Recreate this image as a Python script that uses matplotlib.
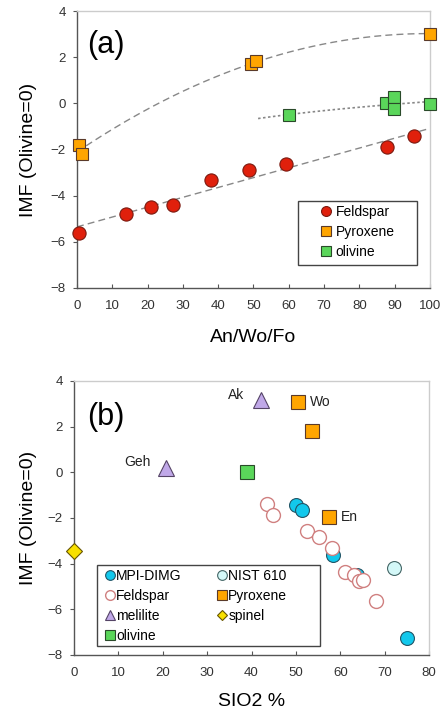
import numpy as np
import matplotlib
matplotlib.use('Agg')
import matplotlib.pyplot as plt
from matplotlib.patches import Rectangle

plt.rcParams['font.family'] = ['Liberation Sans', 'DejaVu Sans']

# ---- panel (a) data: IMF vs An/Wo/Fo ----
feld_x = [0.5, 13.8, 21.0, 27.1, 38.0, 48.8, 59.2, 87.9, 95.6]
feld_y = [-5.63, -4.78, -4.49, -4.42, -3.33, -2.87, -2.61, -1.89, -1.43]
pyx_x = [0.6, 1.3, 49.2, 50.7, 100.0]
pyx_y = [-1.82, -2.2, 1.69, 1.82, 3.02]
oliv_x = [60.1, 87.5, 89.8, 89.8, 100.0]
oliv_y = [-0.52, 0.0, 0.26, -0.26, -0.04]

# ---- panel (b) data: IMF vs SiO2 ----
mpi_x = [50.0, 51.3, 58.4, 63.7, 75.1]
mpi_y = [-1.45, -1.65, -3.62, -4.5, -7.27]
nist_x = [72.2]
nist_y = [-4.18]
fsp_x = [43.6, 44.9, 52.6, 55.2, 58.2, 61.1, 63.1, 64.2, 65.1, 68.1]
fsp_y = [-1.40, -1.87, -2.56, -2.85, -3.33, -4.38, -4.5, -4.77, -4.7, -5.64]
px_x = [50.4, 53.7, 57.5]
px_y = [3.09, 1.81, -1.97]
mel_x = [42.1, 20.7]
mel_y = [3.17, 0.17]
spn_x = [0.0]
spn_y = [-3.43]
olb_x = [38.9]
olb_y = [0.0]

RED = '#e0200c'
ORANGE = '#ffa500'
GREEN = '#5ad65a'
CYAN = '#12c8ec'
LCYAN = '#d4f8f8'
PINK = '#d08080'
LILAC = '#c0a8e8'
YELLOW = '#f8e000'
EDGE = '#5a3a2a'


def style_axes(ax):
    for s in ['left', 'bottom']:
        ax.spines[s].set_color('#555555')
        ax.spines[s].set_linewidth(1.0)
    for s in ['top', 'right']:
        ax.spines[s].set_color('#cccccc')
        ax.spines[s].set_linewidth(1.0)
    ax.tick_params(axis='x', direction='in', length=3, pad=9, labelsize=9.5,
                   colors='#555555', labelcolor='#333333')
    ax.tick_params(axis='y', direction='out', length=3, pad=5, labelsize=9.5,
                   colors='#555555', labelcolor='#333333')


def legend_box(ax, x, y, w, h):
    ax.add_patch(Rectangle((x, y), w, h, transform=ax.transAxes, fill=True,
                           facecolor='white', edgecolor='#444444', lw=1.0,
                           zorder=6, clip_on=False))


fig = plt.figure(figsize=(4.41, 7.10), dpi=100)
ax1 = fig.add_axes([0.1746, 0.5944, 0.8004, 0.3901])
ax2 = fig.add_axes([0.1678, 0.0775, 0.8050, 0.3859])

# ----- (a) -----
xs = np.linspace(0, 100, 200)
c = np.polyfit(pyx_x, pyx_y, 2)
ax1.plot(xs, np.polyval(c, xs), ls=(0, (5, 3)), color='#888888', lw=1.0, zorder=1)
c = np.polyfit(feld_x, feld_y, 1)
ax1.plot(xs, np.polyval(c, xs), ls=(0, (5, 3)), color='#888888', lw=1.0, zorder=1)
xo = np.linspace(51.3, 100, 100)
c = np.polyfit(np.log(oliv_x), oliv_y, 1)
ax1.plot(xo, np.polyval(c, np.log(xo)), ls=(0, (1.5, 1.5)), color='#888888', lw=1.2, zorder=1)

ax1.plot(feld_x, feld_y, 'o', ms=9.5, mfc=RED, mec='#7a1a10', mew=0.8, ls='none',
         label='Feldspar', clip_on=False, zorder=3)
ax1.plot(pyx_x, pyx_y, 's', ms=9, mfc=ORANGE, mec=EDGE, mew=0.8, ls='none',
         label='Pyroxene', clip_on=False, zorder=3)
ax1.plot(oliv_x, oliv_y, 's', ms=9, mfc=GREEN, mec='#2a4a2a', mew=0.8, ls='none',
         label='olivine', clip_on=False, zorder=3)

ax1.set_xlim(0, 100)
ax1.set_ylim(-8, 4)
ax1.set_xticks(range(0, 101, 10))
ax1.set_yticks(range(-8, 5, 2))
style_axes(ax1)
ax1.set_xlabel('An/Wo/Fo', fontsize=14)
ax1.set_ylabel('IMF (Olivine=0)', fontsize=14)
ax1.xaxis.set_label_coords(0.5, -0.148)
ax1.yaxis.set_label_coords(-0.113, 0.5)
ax1.text(0.03, 0.877, '(a)', transform=ax1.transAxes, fontsize=22, va='center')

legend_box(ax1, 0.627, 0.083, 0.337, 0.231)
leg = ax1.legend(loc='center left', bbox_to_anchor=(0.69, 0.203), fontsize=10,
                 markerscale=0.75, handlelength=0.8, handletextpad=0.3,
                 borderpad=0, borderaxespad=0, labelspacing=0.45, frameon=False)
leg.set_zorder(7)

# ----- (b) -----
ax2.plot(mpi_x, mpi_y, 'o', ms=10, mfc=CYAN, mec='#225566', mew=0.8, ls='none',
         label='MPI-DIMG', clip_on=False, zorder=3)
ax2.plot(nist_x, nist_y, 'o', ms=10, mfc=LCYAN, mec='#446666', mew=0.8, ls='none',
         label='NIST 610', clip_on=False, zorder=3)
ax2.plot(fsp_x, fsp_y, 'o', ms=10, mfc='white', mec=PINK, mew=1.0, ls='none',
         label='Feldspar', clip_on=False, zorder=4)
ax2.plot(px_x, px_y, 's', ms=9.5, mfc=ORANGE, mec=EDGE, mew=0.8, ls='none',
         label='Pyroxene', clip_on=False, zorder=3)
ax2.plot(mel_x, mel_y, '^', ms=11, mfc=LILAC, mec='#554466', mew=0.8, ls='none',
         label='melilite', clip_on=False, zorder=3)
ax2.plot(spn_x, spn_y, 'D', ms=8, mfc=YELLOW, mec='#665500', mew=0.8, ls='none',
         label='spinel', clip_on=False, zorder=5)
ax2.plot(olb_x, olb_y, 's', ms=9.5, mfc=GREEN, mec='#2a4a2a', mew=0.8, ls='none',
         label='olivine', clip_on=False, zorder=3)

ax2.text(34.8, 3.37, 'Ak', fontsize=10, va='center', color='#222222')
ax2.text(53.2, 3.1, 'Wo', fontsize=10, va='center', color='#222222')
ax2.text(11.4, 0.45, 'Geh', fontsize=10, va='center', color='#222222')
ax2.text(60.1, -1.96, 'En', fontsize=10, va='center', color='#222222')

ax2.set_xlim(0, 80)
ax2.set_ylim(-8, 4)
ax2.set_xticks(range(0, 81, 10))
ax2.set_yticks(range(-8, 5, 2))
style_axes(ax2)
ax2.set_xlabel('SIO2 %', fontsize=14)
ax2.set_ylabel('IMF (Olivine=0)', fontsize=14)
ax2.xaxis.set_label_coords(0.5, -0.139)
ax2.yaxis.set_label_coords(-0.104, 0.5)
ax2.text(0.037, 0.87, '(b)', transform=ax2.transAxes, fontsize=22, va='center')

h, l = ax2.get_legend_handles_labels()
order = ['MPI-DIMG', 'Feldspar', 'melilite', 'olivine', 'NIST 610', 'Pyroxene', 'spinel']
hh = [h[l.index(n)] for n in order]
legend_box(ax2, 0.0656, 0.0328, 0.627, 0.296)
leg2 = ax2.legend(hh, order, loc='center left', bbox_to_anchor=(0.0895, 0.179), ncol=2,
                  fontsize=10, markerscale=0.7, handlelength=0.6, handletextpad=0.15,
                  columnspacing=2.6, borderpad=0, borderaxespad=0, labelspacing=0.45,
                  frameon=False)
leg2.set_zorder(7)

fig.savefig('out.png', dpi=100)
